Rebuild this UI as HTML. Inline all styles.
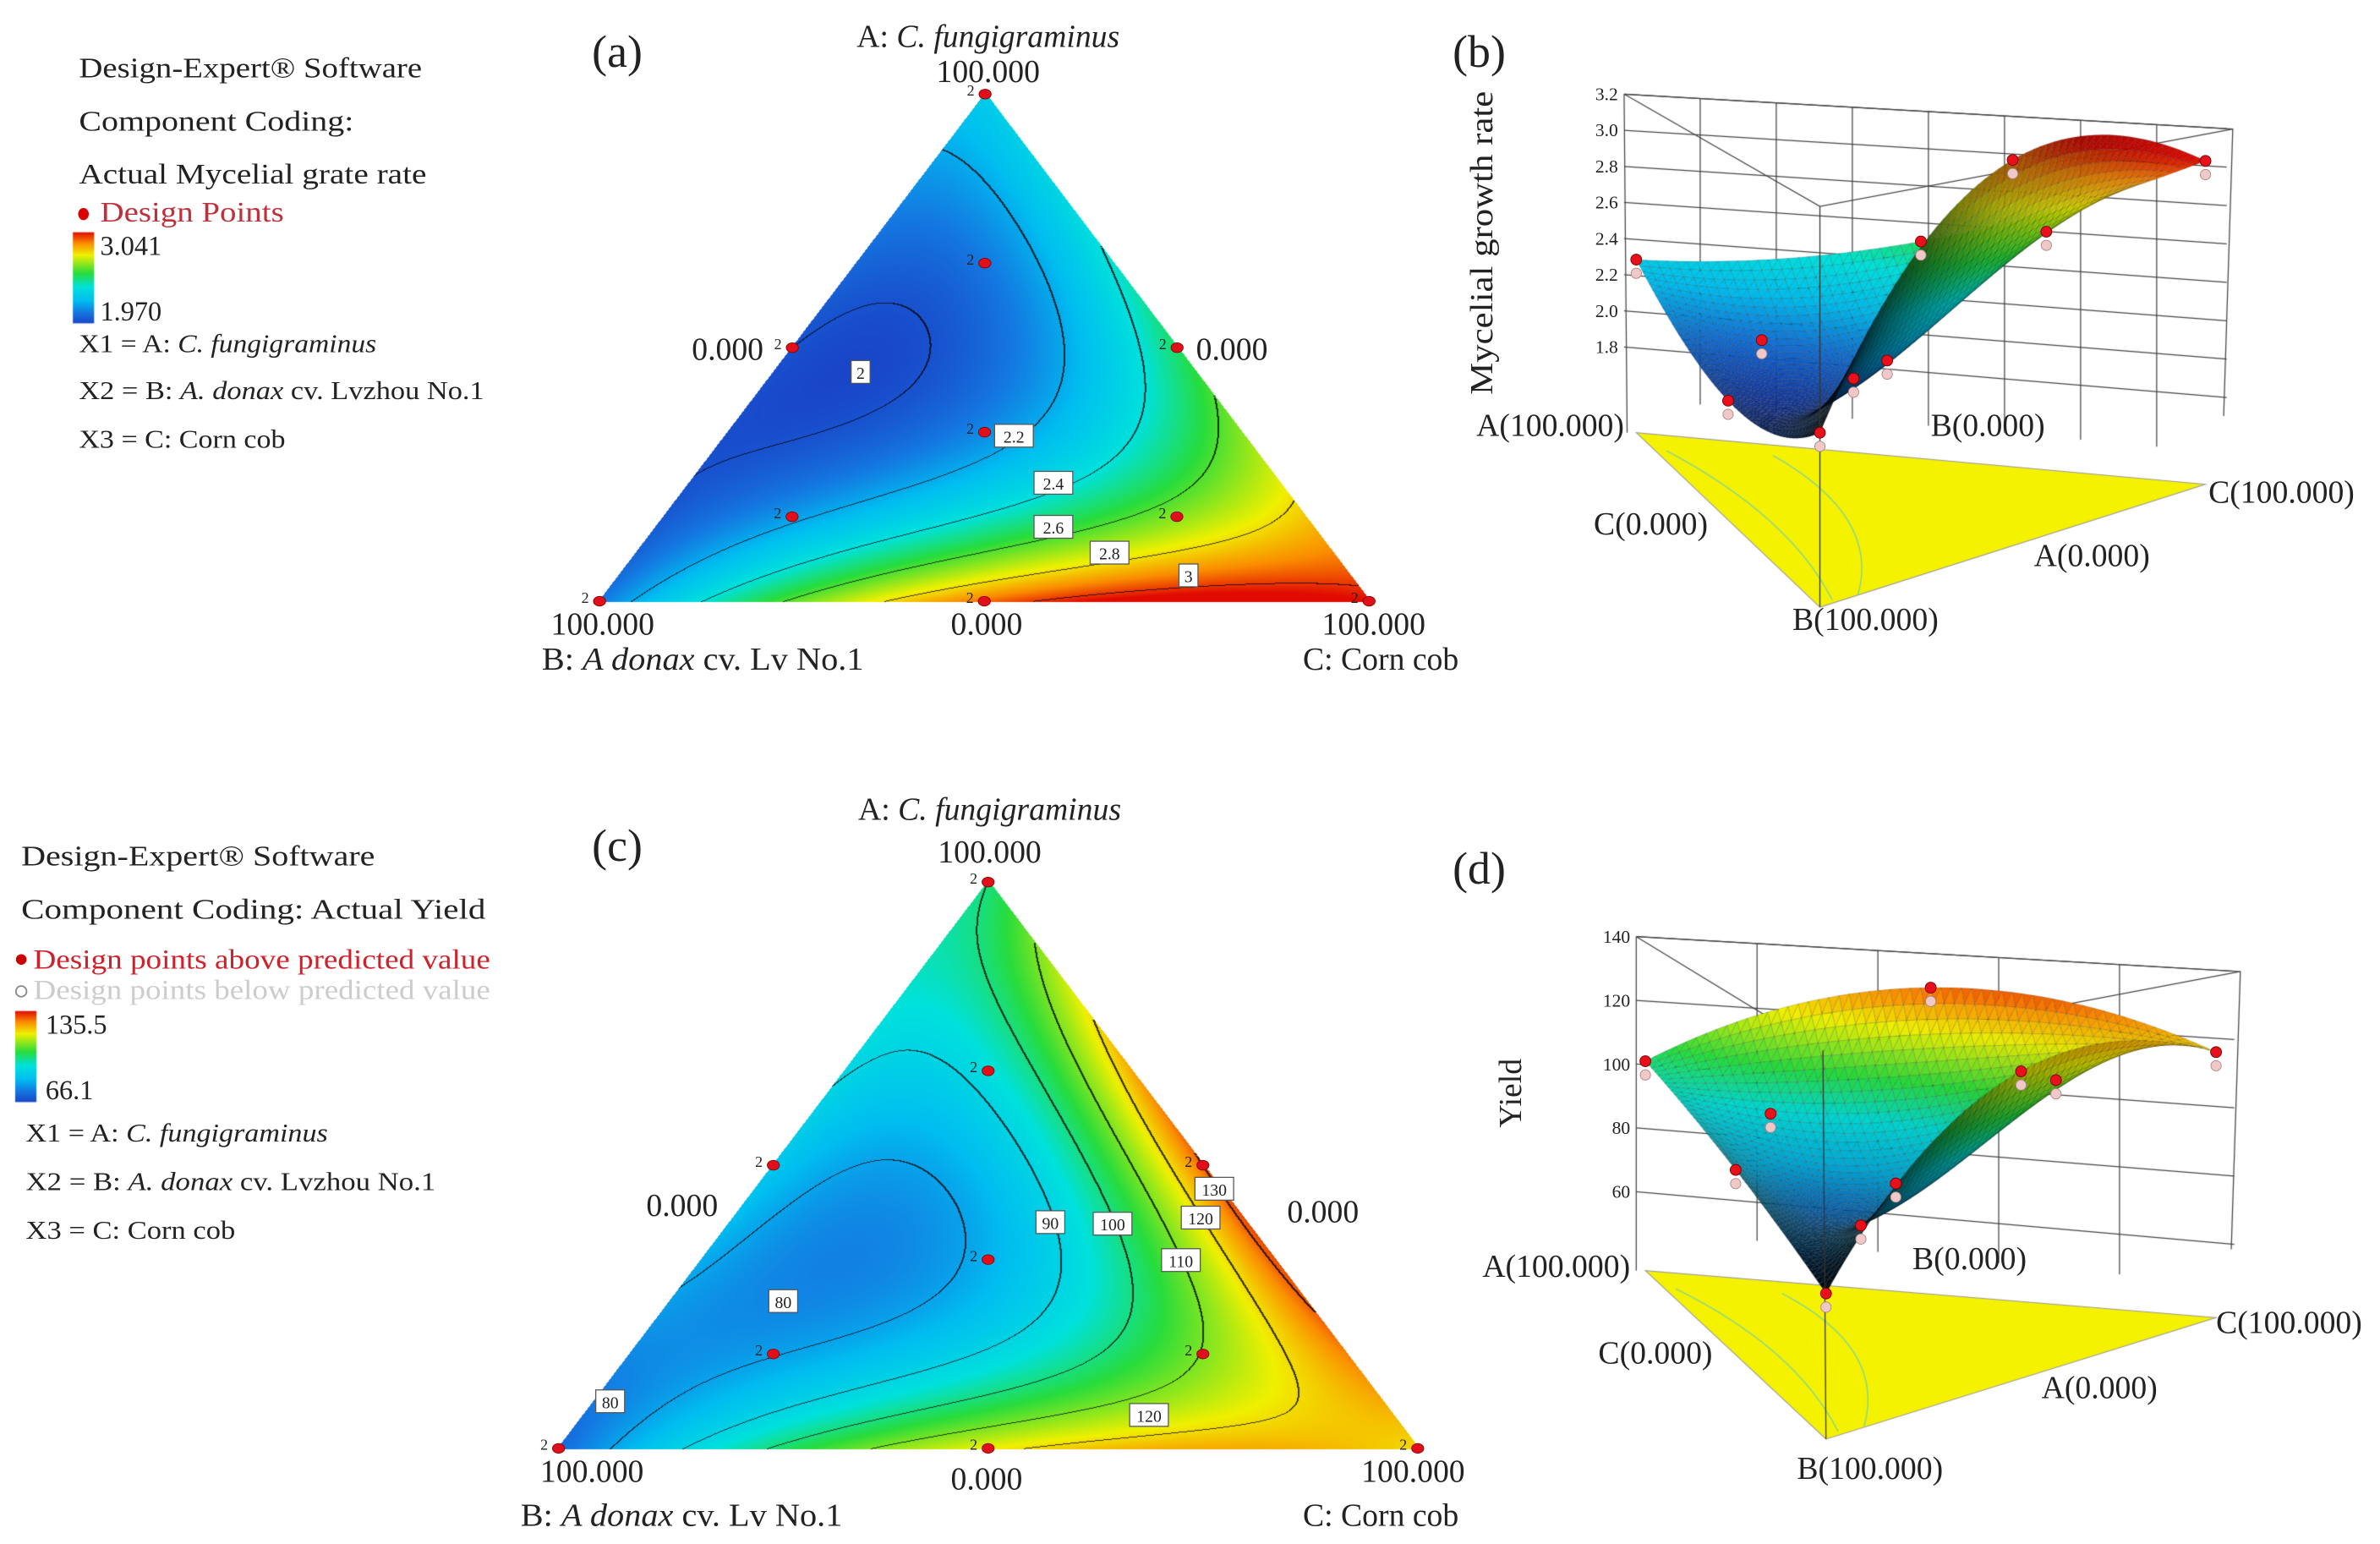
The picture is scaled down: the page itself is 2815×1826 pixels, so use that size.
<!DOCTYPE html>
<html><head><meta charset="utf-8">
<style>
html,body{margin:0;padding:0;background:#fff;}
#wrap{position:relative;width:2815px;height:1826px;overflow:hidden;}
canvas,svg{position:absolute;left:0;top:0;}
text{font-family:"Liberation Serif",serif;fill:#222;}
</style></head>
<body>
<div id="wrap">
<canvas id="cv" width="2815" height="1826"></canvas>
<svg id="ov" width="2815" height="1826" viewBox="0 0 1568 1017" preserveAspectRatio="none">
  <g font-size="19" lengthAdjust="spacingAndGlyphs">
    <text x="52" y="51" textLength="226" lengthAdjust="spacingAndGlyphs">Design-Expert® Software</text>
    <text x="52" y="86" textLength="181" lengthAdjust="spacingAndGlyphs">Component Coding:</text>
    <text x="52" y="121" textLength="229" lengthAdjust="spacingAndGlyphs">Actual Mycelial grate rate</text>
    <ellipse cx="55" cy="141" rx="3.5" ry="4" fill="#d00"/>
    <text x="66" y="146" textLength="121" lengthAdjust="spacingAndGlyphs" style="fill:#c0303a">Design Points</text>
    <text x="66" y="168" font-size="18">3.041</text>
    <text x="66" y="211" font-size="18">1.970</text>
    <text x="52" y="232" font-size="17" textLength="196" lengthAdjust="spacingAndGlyphs">X1 = A: <tspan font-style="italic">C. fungigraminus</tspan></text>
    <text x="52" y="263" font-size="17" textLength="267" lengthAdjust="spacingAndGlyphs">X2 = B: <tspan font-style="italic">A. donax</tspan> cv. Lvzhou No.1</text>
    <text x="52" y="295" font-size="17" textLength="136" lengthAdjust="spacingAndGlyphs">X3 = C: Corn cob</text>
  </g>
  <g font-size="19">
    <text x="14" y="570" textLength="233" lengthAdjust="spacingAndGlyphs">Design-Expert® Software</text>
    <text x="14" y="605" textLength="306" lengthAdjust="spacingAndGlyphs">Component Coding: Actual Yield</text>
    <circle cx="14" cy="632" r="3.5" fill="#c00"/>
    <text x="22" y="638" font-size="18" textLength="301" lengthAdjust="spacingAndGlyphs" style="fill:#d0202a">Design points above predicted value</text>
    <circle cx="14" cy="653" r="3.5" fill="#fff" stroke="#888" stroke-width="1"/>
    <text x="22" y="658" font-size="18" textLength="301" lengthAdjust="spacingAndGlyphs" style="fill:#ccc">Design points below predicted value</text>
    <text x="30" y="681" font-size="18">135.5</text>
    <text x="30" y="724" font-size="18">66.1</text>
    <text x="17" y="752" font-size="17" textLength="199" lengthAdjust="spacingAndGlyphs">X1 = A: <tspan font-style="italic">C. fungigraminus</tspan></text>
    <text x="17" y="784" font-size="17" textLength="270" lengthAdjust="spacingAndGlyphs">X2 = B: <tspan font-style="italic">A. donax</tspan> cv. Lvzhou No.1</text>
    <text x="17" y="816" font-size="17" textLength="138" lengthAdjust="spacingAndGlyphs">X3 = C: Corn cob</text>
  </g>
  <g font-size="30">
    <text x="390" y="44">(a)</text><text x="957" y="44">(b)</text>
    <text x="390" y="567">(c)</text><text x="957" y="582">(d)</text>
  </g>
  <g font-size="21">
    <text x="651" y="31" text-anchor="middle">A: <tspan font-style="italic">C. fungigraminus</tspan></text>
    <text x="651" y="54" text-anchor="middle">100.000</text>
    <text x="503" y="237" text-anchor="end">0.000</text>
    <text x="788" y="237">0.000</text>
    <text x="397" y="418" text-anchor="middle">100.000</text>
    <text x="650" y="418" text-anchor="middle">0.000</text>
    <text x="905" y="418" text-anchor="middle">100.000</text>
    <text x="357" y="441" textLength="212" lengthAdjust="spacingAndGlyphs">B: <tspan font-style="italic">A donax</tspan> cv. Lv No.1</text>
    <text x="961" y="441" text-anchor="end">C: Corn cob</text>
  </g>
  <g font-size="21">
    <text x="652" y="540" text-anchor="middle">A: <tspan font-style="italic">C. fungigraminus</tspan></text>
    <text x="652" y="568" text-anchor="middle">100.000</text>
    <text x="473" y="801" text-anchor="end">0.000</text>
    <text x="848" y="805">0.000</text>
    <text x="390" y="976" text-anchor="middle">100.000</text>
    <text x="650" y="981" text-anchor="middle">0.000</text>
    <text x="931" y="976" text-anchor="middle">100.000</text>
    <text x="343" y="1005" textLength="212" lengthAdjust="spacingAndGlyphs">B: <tspan font-style="italic">A donax</tspan> cv. Lv No.1</text>
    <text x="961" y="1005" text-anchor="end">C: Corn cob</text>
  </g>
  <g font-size="21">
    <text transform="translate(983,160) rotate(-90)" text-anchor="middle" textLength="200" lengthAdjust="spacingAndGlyphs">Mycelial growth rate</text>
    <text x="1070" y="287" text-anchor="end">A(100.000)</text>
    <text x="1272" y="287">B(0.000)</text>
    <text x="1455" y="331">C(100.000)</text>
    <text x="1050" y="352">C(0.000)</text>
    <text x="1340" y="373">A(0.000)</text>
    <text x="1229" y="415" text-anchor="middle">B(100.000)</text>
  </g>
  <g font-size="21">
    <text transform="translate(1002,720) rotate(-90)" text-anchor="middle">Yield</text>
    <text x="1074" y="841" text-anchor="end">A(100.000)</text>
    <text x="1260" y="836">B(0.000)</text>
    <text x="1460" y="878">C(100.000)</text>
    <text x="1053" y="898">C(0.000)</text>
    <text x="1345" y="921">A(0.000)</text>
    <text x="1232" y="974" text-anchor="middle">B(100.000)</text>
  </g>
  <g id="dyn"></g>
</svg>
</div>
<script>
// ===== DATA =====
// Scheffé special-cubic coefficients: [A, B, C, AB, AC, BC, ABC]
const coefGrowth = [2.3, 2.1, 3.04, -0.8, -0.6, 1.5, -9.5];
const coefYield = [100, 72, 120, 0, 80, 88, -918];
const rangeGrowth = [1.970, 3.041];
const rangeYield = [66.1, 135.5];
const levelsGrowth = [2.0, 2.2, 2.4, 2.6, 2.8, 3.0];
const levelsYield = [80, 90, 100, 110, 120, 130];
const designA = [1,0,0,0.5,0.5,0,2/3,1/6,1/6,1/3];
const designB = [0,1,0,0.5,0,0.5,1/6,2/3,1/6,1/3];
const designC = [0,0,1,0,0.5,0.5,1/6,1/6,2/3,1/3];
const ticksGrowth = ["3.2","3.0","2.8","2.6","2.4","2.2","2.0","1.8"];
const tickValsGrowth = [3.2,3.0,2.8,2.6,2.4,2.2,2.0,1.8];
const ticksYield = ["140","120","100","80","60"];
const tickValsYield = [140,120,100,80,60];
const labelsA = ["2","2.2","2.4","2.6","2.8","3"];
const labelsC = ["80","90","100","110","120","130","120","80"];

const S = 2815/1568;
const cv = document.getElementById('cv');
const ctx = cv.getContext('2d');
const dyn = document.getElementById('dyn');
const NS = 'http://www.w3.org/2000/svg';

function model(k,a,b,c){return k[0]*a+k[1]*b+k[2]*c+k[3]*a*b+k[4]*a*c+k[5]*b*c+k[6]*a*b*c;}
const stops=[[0,25,70,200],[0.12,20,120,225],[0.25,0,190,240],[0.4,0,225,220],[0.55,40,220,60],[0.75,240,240,0],[0.88,250,140,0],[1,225,10,0]];
function cmap(t){t=Math.max(0,Math.min(1,t));for(let i=1;i<stops.length;i++){if(t<=stops[i][0]){const s0=stops[i-1],s1=stops[i];const f=(t-s0[0])/(s1[0]-s0[0]);return [s0[1]+f*(s1[1]-s0[1]),s0[2]+f*(s1[2]-s0[2]),s0[3]+f*(s1[3]-s0[3])];}}return stops[stops.length-1].slice(1);}
function bary(A,B,C,x,y){const det=(B[1]-C[1])*(A[0]-C[0])+(C[0]-B[0])*(A[1]-C[1]);const a=((B[1]-C[1])*(x-C[0])+(C[0]-B[0])*(y-C[1]))/det;const b=((C[1]-A[1])*(x-C[0])+(A[0]-C[0])*(y-C[1]))/det;return [a,b,1-a-b];}
function mk(tag,attrs,parent){const e=document.createElementNS(NS,tag);for(const k in attrs)e.setAttribute(k,attrs[k]);(parent||dyn).appendChild(e);return e;}

function colorbar(x,y,w,h){const g=ctx.createLinearGradient(0,y*S,0,(y+h)*S);for(const s of stops){g.addColorStop(1-s[0],`rgb(${s[1]|0},${s[2]|0},${s[3]|0})`);}ctx.fillStyle=g;ctx.fillRect(x*S,y*S,w*S,h*S);}
colorbar(48,153,14,60);
colorbar(10,666,14,60);

function ternary(A,B,C,coef,range,levels){
  const x0=Math.floor(Math.min(A[0],B[0],C[0])*S)-1,x1=Math.ceil(Math.max(A[0],B[0],C[0])*S)+1;
  const y0=Math.floor(Math.min(A[1],B[1],C[1])*S)-1,y1=Math.ceil(Math.max(A[1],B[1],C[1])*S)+1;
  const W=x1-x0,H=y1-y0;const vals=new Float32Array(W*H);const ins=new Uint8Array(W*H);
  for(let j=0;j<H;j++)for(let i=0;i<W;i++){const bc=bary(A,B,C,(x0+i)/S,(y0+j)/S);const k=j*W+i;if(bc[0]>=-0.002&&bc[1]>=-0.002&&bc[2]>=-0.002){ins[k]=1;vals[k]=model(coef,bc[0],bc[1],bc[2]);}}
  const img=ctx.getImageData(x0,y0,W,H);const d=img.data;
  const lvl=v=>{let n=0;for(const L of levels)if(v>=L)n++;return n;};
  for(let j=0;j<H;j++)for(let i=0;i<W;i++){const k=j*W+i;if(!ins[k])continue;const v=vals[k];let col=cmap((v-range[0])/(range[1]-range[0]));
    const l=lvl(v);let edge=false;if(i+1<W&&ins[k+1]&&lvl(vals[k+1])!==l)edge=true;if(j+1<H&&ins[k+W]&&lvl(vals[k+W])!==l)edge=true;if(i+2<W&&ins[k+2]&&lvl(vals[k+2])!==l)edge=true;
    if(edge)col=[col[0]*0.25,col[1]*0.25,col[2]*0.25];
    d[k*4]=col[0];d[k*4+1]=col[1];d[k*4+2]=col[2];d[k*4+3]=255;}
  ctx.putImageData(img,x0,y0);
  for(let i=0;i<designA.length;i++){const a=designA[i],b=designB[i],c=designC[i];const x=a*A[0]+b*B[0]+c*C[0],y=a*A[1]+b*B[1]+c*C[1];
    const e=mk('ellipse',{cx:x,cy:y,rx:4,ry:3.2,fill:'#e0101a',stroke:'#800',"stroke-width":0.5});
    
    
    const t=mk('text',{x:x-7,y:y+1,'font-size':10,'text-anchor':'end'});t.textContent='2';
    
    }
}
const TA=[[649,62],[395,396],[902,396]];
const TC=[[651,581],[368,954],[934,954]];
ternary(TA[0],TA[1],TA[2],coefGrowth,rangeGrowth,levelsGrowth);
ternary(TC[0],TC[1],TC[2],coefYield,rangeYield,levelsYield);

function boxLabel(x,y,s){const w=s.length*6.5+6;const r=mk('rect',{x:x-w/2,y:y-7.5,width:w,height:15,fill:'#fff',stroke:'#555','stroke-width':0.7});
  
  
  const t=mk('text',{x:x,y:y+4.5,'font-size':11,'text-anchor':'middle','font-family':'Liberation Sans, sans-serif'});t.textContent=s;}
const posA=[[567,245],[668,287],[694,318],[694,347],[731,364],[783,379]];
labelsA.forEach((s,i)=>boxLabel(posA[i][0],posA[i][1],s));
const posC=[[516,857],[692,805],[733,806],[778,830],[791,802],[800,783],[757,932],[402,923]];
labelsC.forEach((s,i)=>boxLabel(posC[i][0],posC[i][1],s));

function surface(P){
  const {base,surf,coef,range,v0,box,ticks,tickVals,axisX}=P;
  const vA=model(coef,1,0,0),vB=model(coef,0,1,0),vC=model(coef,0,0,1);
  const kA=(base[0][1]-surf[0][1])/(vA-v0),kB=(base[1][1]-surf[1][1])/(vB-v0),kC=(base[2][1]-surf[2][1])/(vC-v0);
  const yOfV=v=>box.topY+(box.topV-v)*box.pxPerUnit;
  ctx.save();ctx.setTransform(S,0,0,S,0,0);
  ctx.strokeStyle='#444';ctx.lineWidth=0.7;
  const slope=(box.TR[1]-box.TL[1])/(box.TR[0]-box.TL[0]);
  tickVals.forEach((v,i)=>{const y=yOfV(v);ctx.beginPath();ctx.moveTo(axisX,y);ctx.lineTo(box.TR[0]-4,y+slope*(box.TR[0]-4-axisX)+ i*box.fan);ctx.stroke();
    const t=mk('text',{x:axisX-4,y:y+4,'font-size':12,'text-anchor':'end'});t.textContent=ticks[i];
    
    });
  for(let g=1;g<=box.nv;g++){const x=axisX+(box.TR[0]-axisX)*g/(box.nv+1);ctx.beginPath();ctx.moveTo(x,box.TL[1]+slope*(x-axisX));ctx.lineTo(x,box.botY+slope*(x-axisX)*1.6);ctx.stroke();}
  ctx.beginPath();ctx.moveTo(box.TL[0],box.TL[1]);ctx.lineTo(box.TR[0],box.TR[1]);ctx.lineTo(box.TR[0]-6,base[2][1]-45);
  ctx.moveTo(box.TL[0],box.TL[1]);ctx.lineTo(box.F[0],box.F[1]);ctx.lineTo(box.TR[0],box.TR[1]);
  ctx.moveTo(box.TL[0],box.TL[1]);ctx.lineTo(base[0][0]-6,base[0][1]);ctx.stroke();
  ctx.fillStyle='#f5f200';ctx.beginPath();ctx.moveTo(base[0][0],base[0][1]);ctx.lineTo(base[1][0],base[1][1]);ctx.lineTo(base[2][0],base[2][1]);ctx.closePath();ctx.fill();
  ctx.strokeStyle='#999';ctx.lineWidth=0.6;ctx.stroke();
  ctx.strokeStyle='rgba(120,210,160,0.9)';ctx.lineWidth=0.8;
  ctx.beginPath();ctx.moveTo(base[0][0]+20,base[0][1]+12);ctx.quadraticCurveTo(base[1][0]-20,base[1][1]-60,base[1][0]+8,base[1][1]-5);ctx.stroke();
  ctx.beginPath();ctx.moveTo(base[0][0]+90,base[0][1]+15);ctx.quadraticCurveTo(base[1][0]+40,base[1][1]-60,base[1][0]+25,base[1][1]-8);ctx.stroke();
  const n=56;const cells=[];
  const pt=(a,b)=>{const c=1-a-b;const v=model(coef,a,b,c);const k=a*kA+b*kB+c*kC;const bx=a*base[0][0]+b*base[1][0]+c*base[2][0];const by=a*base[0][1]+b*base[1][1]+c*base[2][1];return {x:bx,y:by-(v-v0)*k,v:v,by:by,b:b,c:c};};
  for(let i=0;i<n;i++)for(let j=0;i+j<n;j++){const p1=pt(i/n,j/n),p2=pt((i+1)/n,j/n),p3=pt(i/n,(j+1)/n);cells.push([p1,p2,p3]);
    if(i+j<n-1){const p4=pt((i+1)/n,(j+1)/n);cells.push([p2,p4,p3]);}}
  cells.forEach(c=>{c.d=(c[0].by+c[1].by+c[2].by)/3;});
  cells.sort((a,b)=>a.d-b.d);
  for(const c of cells){const v=(c[0].v+c[1].v+c[2].v)/3;const bb=(c[0].b+c[1].b+c[2].b)/3;const cc=(c[0].c+c[1].c+c[2].c)/3;
    let col=cmap((v-range[0])/(range[1]-range[0]));const sh=Math.max(0.08,1-0.95*Math.pow(bb,1.6)-0.35*Math.max(0,cc-0.5)*bb*4);
    ctx.fillStyle=`rgb(${col[0]*sh|0},${col[1]*sh|0},${col[2]*sh|0})`;ctx.strokeStyle=`rgba(0,0,0,0.35)`;ctx.lineWidth=0.25;
    ctx.beginPath();ctx.moveTo(c[0].x,c[0].y);ctx.lineTo(c[1].x,c[1].y);ctx.lineTo(c[2].x,c[2].y);ctx.closePath();ctx.fill();ctx.stroke();}
  ctx.strokeStyle='#333';ctx.lineWidth=0.7;ctx.beginPath();ctx.moveTo(box.F[0],box.F[1]);ctx.lineTo(base[1][0],base[1][1]);ctx.stroke();
  ctx.restore();
  for(let i=0;i<designA.length;i++){const a=designA[i],b=designB[i];const p=pt(a,b);
    const e=mk('circle',{cx:p.x,cy:p.y,r:3.6,fill:'#e8101a',stroke:'#700','stroke-width':0.5});
    
    
    const e2=mk('circle',{cx:p.x,cy:p.y+9,r:3.4,fill:'#f0c8c8',stroke:'#a88','stroke-width':0.5});
    
    }
}
surface({base:[[1078,285],[1199,400],[1453,319]],surf:[[1074,171],[1199,285],[1470,106]],coef:coefGrowth,range:rangeGrowth,v0:1.6,
  box:{TL:[1070,62],TR:[1471,85],F:[1199,136],topY:62,topV:3.2,pxPerUnit:119,botY:262,nv:7,fan:1.5},ticks:ticksGrowth,tickVals:tickValsGrowth,axisX:1070});
surface({base:[[1084,837],[1203,948],[1460,868]],surf:[[1080,699],[1203,852],[1472,693]],coef:coefYield,range:rangeYield,v0:40,
  box:{TL:[1078,617],TR:[1476,640],F:[1201,692],topY:617,topV:140,pxPerUnit:2.1,botY:810,nv:4,fan:3},ticks:ticksYield,tickVals:tickValsYield,axisX:1078});
</script>
</body></html>
